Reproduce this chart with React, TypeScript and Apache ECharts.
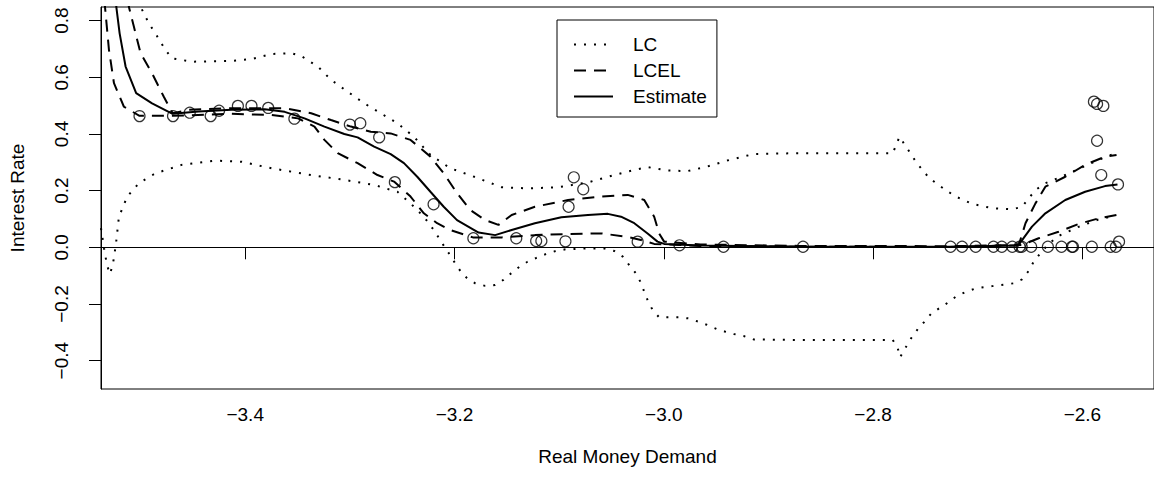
import React, { useEffect, useRef } from "react";
import * as echarts from "echarts";

const xTicks = [-3.4, -3.2, -3.0, -2.8, -2.6];
const yTicks = [-0.4, -0.2, 0.0, 0.2, 0.4, 0.6, 0.8];

const estimate: [number, number][] = [
  [-3.5252, 0.944], [-3.5232, 0.849], [-3.52, 0.755], [-3.5143, 0.638], [-3.5042, 0.544],
  [-3.489, 0.508], [-3.4694, 0.471], [-3.4447, 0.479], [-3.413, 0.485], [-3.3813, 0.487],
  [-3.3623, 0.478], [-3.3433, 0.455], [-3.3243, 0.426], [-3.3053, 0.4], [-3.2926, 0.388],
  [-3.2768, 0.355], [-3.261, 0.329], [-3.2483, 0.297], [-3.2356, 0.249], [-3.223, 0.196],
  [-3.2103, 0.143], [-3.1976, 0.096], [-3.177, 0.052], [-3.1612, 0.043], [-3.1454, 0.061],
  [-3.1232, 0.085], [-3.0979, 0.106], [-3.0725, 0.114], [-3.0535, 0.118], [-3.0409, 0.108],
  [-3.0282, 0.085], [-3.0155, 0.049], [-3.006, 0.02], [-2.9997, 0.012], [-2.9649, 0.006],
  [-2.8698, 0.003], [-2.7273, 0.002], [-2.6615, 0.006], [-2.6482, 0.073], [-2.6354, 0.12],
  [-2.6164, 0.167], [-2.5974, 0.196], [-2.5784, 0.216], [-2.5665, 0.222],
];

const lcelUpper: [number, number][] = [
  [-3.5135, 0.944], [-3.5112, 0.849], [-3.5064, 0.779], [-3.5, 0.685], [-3.489, 0.614],
  [-3.4779, 0.532], [-3.4694, 0.473], [-3.4542, 0.485], [-3.413, 0.491], [-3.3623, 0.491],
  [-3.337, 0.473], [-3.318, 0.449], [-3.299, 0.426], [-3.28, 0.408], [-3.261, 0.402],
  [-3.242, 0.379], [-3.223, 0.32], [-3.2103, 0.261], [-3.1976, 0.191], [-3.185, 0.132],
  [-3.1707, 0.096], [-3.158, 0.079], [-3.1454, 0.114], [-3.1232, 0.143], [-3.0915, 0.167],
  [-3.0599, 0.179], [-3.0345, 0.185], [-3.0187, 0.167], [-3.0092, 0.108], [-3.0045, 0.049],
  [-2.9997, 0.02], [-2.9649, 0.01], [-2.8698, 0.005], [-2.7273, 0.004], [-2.6608, 0.008],
  [-2.6544, 0.085], [-2.6449, 0.155], [-2.6354, 0.214], [-2.6164, 0.249], [-2.5974, 0.291],
  [-2.5784, 0.32], [-2.5674, 0.326],
];

const lcelLower: [number, number][] = [
  [-3.5354, 0.944], [-3.534, 0.849], [-3.5302, 0.697], [-3.5254, 0.579], [-3.5159, 0.496],
  [-3.501, 0.464], [-3.4694, 0.464], [-3.413, 0.471], [-3.375, 0.467], [-3.3496, 0.455],
  [-3.3338, 0.426], [-3.3243, 0.379], [-3.3116, 0.332], [-3.2926, 0.297], [-3.2736, 0.255],
  [-3.2578, 0.232], [-3.242, 0.179], [-3.2293, 0.12], [-3.2166, 0.085], [-3.204, 0.061],
  [-3.1824, 0.035], [-3.1549, 0.035], [-3.1232, 0.043], [-3.0915, 0.047], [-3.0599, 0.049],
  [-3.0345, 0.037], [-3.0219, 0.026], [-3.0092, 0.012], [-2.9649, 0.005], [-2.8698, 0.002],
  [-2.7273, 0.001], [-2.6577, 0.008], [-2.6418, 0.032], [-2.6228, 0.055], [-2.6038, 0.082],
  [-2.5848, 0.102], [-2.5674, 0.114],
];

const lcUpper: [number, number][] = [
  [-3.5026, 0.944], [-3.5, 0.849], [-3.4922, 0.791], [-3.4858, 0.755], [-3.4763, 0.697],
  [-3.47, 0.667], [-3.451, 0.655], [-3.413, 0.658], [-3.394, 0.664], [-3.375, 0.682],
  [-3.356, 0.685], [-3.3465, 0.675], [-3.3306, 0.638], [-3.318, 0.591], [-3.3021, 0.549],
  [-3.2863, 0.508], [-3.2705, 0.473], [-3.2546, 0.438], [-3.2388, 0.39], [-3.223, 0.326],
  [-3.204, 0.279], [-3.1834, 0.252], [-3.1549, 0.212], [-3.1295, 0.208], [-3.101, 0.212],
  [-3.0725, 0.229], [-3.0472, 0.255], [-3.0282, 0.273], [-3.0155, 0.283], [-2.9965, 0.271],
  [-2.9775, 0.269], [-2.9585, 0.285], [-2.9395, 0.306], [-2.9142, 0.329], [-2.8762, 0.332],
  [-2.7812, 0.332], [-2.7748, 0.39], [-2.7685, 0.355], [-2.7582, 0.297], [-2.7463, 0.244],
  [-2.7304, 0.201], [-2.7209, 0.179], [-2.7052, 0.153], [-2.6862, 0.138], [-2.6672, 0.134],
  [-2.6577, 0.143], [-2.6513, 0.173], [-2.6449, 0.202], [-2.6354, 0.226], [-2.6164, 0.255],
  [-2.5974, 0.287], [-2.5848, 0.308], [-2.5689, 0.332],
];

const lcLower: [number, number][] = [
  [-3.5378, 0.068], [-3.5349, -0.003], [-3.5321, -0.063], [-3.5292, -0.094], [-3.5264, -0.059],
  [-3.5235, 0.012], [-3.5207, 0.107], [-3.5128, 0.179], [-3.5017, 0.226], [-3.4858, 0.261],
  [-3.4605, 0.291], [-3.4288, 0.306], [-3.4035, 0.302], [-3.375, 0.279], [-3.337, 0.255],
  [-3.3053, 0.238], [-3.2768, 0.22], [-3.2546, 0.196], [-3.242, 0.155], [-3.2293, 0.108],
  [-3.2198, 0.061], [-3.2103, 0.006], [-3.2049, -0.024], [-3.1998, -0.054], [-3.1945, -0.083],
  [-3.1881, -0.109], [-3.1802, -0.127], [-3.1707, -0.136], [-3.1612, -0.133], [-3.1533, -0.115],
  [-3.146, -0.092], [-3.1381, -0.069], [-3.1302, -0.051], [-3.1216, -0.037], [-3.1128, -0.024],
  [-3.1033, -0.013], [-3.0938, -0.007], [-3.0741, -0.004], [-3.0567, -0.004], [-3.0472, -0.013],
  [-3.0392, -0.033], [-3.033, -0.063], [-3.0266, -0.092], [-3.0219, -0.125], [-3.0187, -0.157],
  [-3.0149, -0.192], [-3.0107, -0.221], [-3.0045, -0.247], [-2.9855, -0.247], [-2.976, -0.251],
  [-2.9665, -0.263], [-2.9585, -0.274], [-2.949, -0.289], [-2.9411, -0.298], [-2.9332, -0.306],
  [-2.9237, -0.313], [-2.9142, -0.325], [-2.8762, -0.327], [-2.7812, -0.327], [-2.7764, -0.357],
  [-2.7742, -0.388], [-2.7685, -0.351], [-2.7637, -0.321], [-2.7574, -0.289], [-2.7511, -0.263],
  [-2.7447, -0.235], [-2.7368, -0.215], [-2.7289, -0.196], [-2.7209, -0.174], [-2.7114, -0.157],
  [-2.7019, -0.145], [-2.6862, -0.137], [-2.6656, -0.127], [-2.6577, -0.113], [-2.6513, -0.083],
  [-2.6466, -0.051], [-2.6402, -0.021], [-2.6323, 0.012], [-2.6228, 0.04], [-2.6038, 0.072],
  [-2.5848, 0.098], [-2.5689, 0.112],
];

const pointsX = [
  -3.501, -3.469, -3.453, -3.433, -3.425, -3.407, -3.394, -3.378, -3.353, -3.3, -3.29, -3.272,
  -3.257, -3.22, -3.182, -3.141, -3.122, -3.117, -3.094, -3.091, -3.086, -3.077, -3.025, -2.985,
  -2.943, -2.867, -2.726, -2.715, -2.702, -2.685, -2.677, -2.667, -2.66, -2.658, -2.649, -2.633,
  -2.62, -2.61, -2.609, -2.591, -2.573, -2.568, -2.589, -2.586, -2.58, -2.586, -2.582, -2.566,
  -2.565,
];
const pointsY = [
  0.463, 0.463, 0.475, 0.463, 0.482, 0.499, 0.499, 0.492, 0.454, 0.433, 0.438, 0.388,
  0.23, 0.152, 0.032, 0.032, 0.022, 0.022, 0.021, 0.143, 0.247, 0.205, 0.02, 0.007,
  0.002, 0.002, 0.002, 0.002, 0.002, 0.002, 0.002, 0.002, 0.002, 0.002, 0.002, 0.002,
  0.002, 0.002, 0.002, 0.002, 0.002, 0.002, 0.514, 0.506, 0.499, 0.376, 0.255, 0.222,
  0.02,
];

const FONT = "'Liberation Sans', Arial, sans-serif";
const fmt = (v: number) => v.toFixed(1).replace("-", "\u2212");

const dotted = { color: "#000", width: 2, type: [2, 8] as number[] };
const dashed = { color: "#000", width: 2, type: [12, 8] as number[] };
const solid = { color: "#000", width: 2, type: "solid" };

export default function App() {
  const ref = useRef<HTMLDivElement>(null);
  useEffect(() => {
    const chart = echarts.init(ref.current!, null, { renderer: "svg" });
    const lineSeries = (name: string, data: [number, number][], ls: any, extra: any = {}) => ({
      name,
      type: "line",
      data,
      showSymbol: false,
      symbol: "none",
      lineStyle: ls,
      itemStyle: { color: "#000" },
      clip: true,
      silent: true,
      ...extra,
    });
    chart.setOption({
      animation: false,
      backgroundColor: "#fff",
      grid: {
        left: 97,
        top: 7,
        width: 1059,
        height: 382,
        show: true,
        borderColor: "#000",
        borderWidth: 1,
        backgroundColor: "transparent",
      },
      legend: {
        data: ["LC", "LCEL", "Estimate"],
        orient: "vertical",
        left: 557,
        top: 20,
        borderColor: "#000",
        borderWidth: 1,
        borderRadius: 0,
        backgroundColor: "#fff",
        padding: [15, 10, 11, 16],
        itemWidth: 39,
        itemHeight: 14,
        itemGap: 7,
        selectedMode: false,
        itemStyle: { opacity: 0 },
        textStyle: { fontSize: 19, color: "#000", fontFamily: FONT, padding: [0, 0, 0, 15] },
      },
      xAxis: {
        type: "value",
        min: -3.5378,
        max: -2.5316,
        axisLine: { show: true, lineStyle: { color: "#000" } },
        splitLine: { show: false },
        axisTick: { show: true, customValues: xTicks, length: 12, lineStyle: { color: "#000" } },
        axisLabel: { customValues: xTicks, formatter: fmt, margin: 16, color: "#000", fontSize: 19, fontFamily: FONT },
        name: "Real Money Demand",
        nameLocation: "middle",
        nameGap: 58,
        nameTextStyle: { fontSize: 19, color: "#000", fontFamily: FONT },
      },
      yAxis: {
        type: "value",
        min: -0.5,
        max: 0.848,
        axisLine: { show: true, lineStyle: { color: "#000" } },
        splitLine: { show: false },
        axisTick: { show: true, customValues: yTicks, length: 12, lineStyle: { color: "#000" } },
        axisLabel: { customValues: yTicks, formatter: fmt, rotate: 90, margin: 30, color: "#000", fontSize: 19, fontFamily: FONT },
        name: "Interest Rate",
        nameLocation: "middle",
        nameRotate: 90,
        nameGap: 74,
        nameTextStyle: { fontSize: 19, color: "#000", fontFamily: FONT },
      },
      series: [
        lineSeries("LC", lcUpper, dotted),
        lineSeries("LC", lcLower, dotted),
        lineSeries("LCEL", lcelUpper, dashed),
        lineSeries("LCEL", lcelLower, dashed),
        lineSeries("Estimate", estimate, solid, {
          markLine: {
            silent: true,
            symbol: "none",
            label: { show: false },
            lineStyle: { color: "#000", width: 1, type: "solid" },
            data: [{ yAxis: 0 }],
          },
        }),
        {
          name: "Data",
          type: "scatter",
          data: pointsX.map((x, i) => [x, pointsY[i]]),
          symbol: "circle",
          symbolSize: 11,
          itemStyle: { color: "transparent", borderColor: "#000", borderWidth: 1.2 },
          silent: true,
          z: 5,
        },
      ],
    });
    return () => chart.dispose();
  }, []);
  return (
    <div
      ref={ref}
      style={{ position: "fixed", left: 0, top: 0, width: 1154, height: 489, background: "#fff" }}
    />
  );
}
